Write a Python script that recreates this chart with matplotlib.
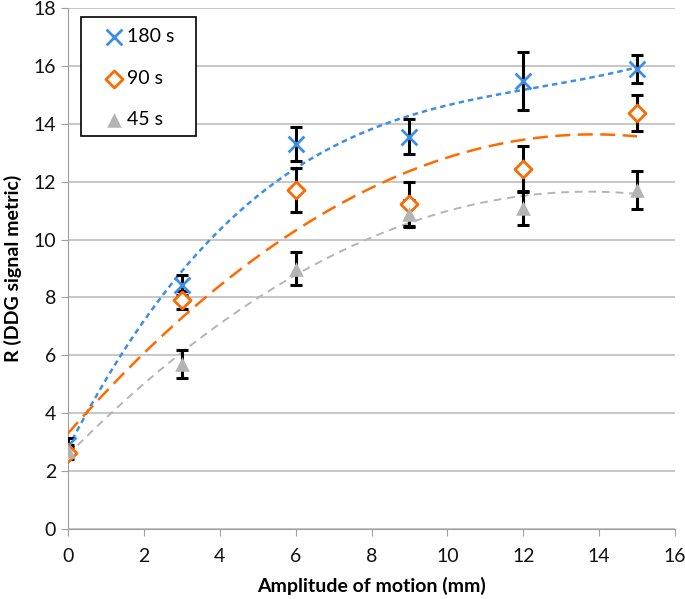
import numpy as np
import matplotlib.pyplot as plt
from matplotlib.patches import Rectangle

plt.rcParams['font.family'] = ['Lato', 'DejaVu Sans']

# Data
amplitude = [0, 3, 6, 9, 12, 15]  # mm

r_180 = [2.9, 8.43, 13.3, 13.55, 15.48, 15.9]
err_180 = [0.25, 0.35, 0.6, 0.6, 1.0, 0.48]

r_90 = [2.63, 7.91, 11.71, 11.23, 12.44, 14.37]
err_90 = [0.2, 0.3, 0.75, 0.75, 0.8, 0.63]

r_45 = [2.7, 5.7, 9.0, 10.9, 11.09, 11.71]
err_45 = [0.2, 0.47, 0.58, 0.45, 0.6, 0.65]

series = [
    ('180 s', r_180, err_180, '#3d8fe6', 'x', 3, (0, (2.2, 1.6)), 1.8),
    ('90 s', r_90, err_90, '#ff6a00', 'D', 2, (0, (6, 3)), 1.8),
    ('45 s', r_45, err_45, '#b4b4b4', '^', 2, (0, (4, 3)), 1.4),
]

fig = plt.figure(figsize=(6.85, 5.99), dpi=100)
ax = fig.add_axes([68 / 685, 70 / 599, 607 / 685, 521 / 599])

xfit = np.linspace(0, 15, 200)
handles = []
for label, y, err, color, marker, deg, ls, lw in series:
    # polynomial trendline (as in the original spreadsheet chart)
    coef = np.polyfit(amplitude, y, deg)
    ax.plot(xfit, np.polyval(coef, xfit), color=color, linestyle=ls, lw=lw, zorder=3)
    ax.errorbar(amplitude, y, yerr=err, fmt='none', ecolor='black',
                elinewidth=2.2, capsize=4, capthick=2.2, zorder=4)
    if marker == 'x':
        h = ax.scatter(amplitude, y, marker='x', s=130, color=color, lw=2, zorder=5, label=label)
    elif marker == 'D':
        h = ax.scatter(amplitude, y, marker='D', s=75, facecolor='white', edgecolor=color,
                       lw=2, zorder=5, label=label)
    else:
        h = ax.scatter(amplitude, y, marker='^', s=110, color=color, lw=0, zorder=5, label=label)
    handles.append(h)

ax.set_xlim(0, 16)
ax.set_ylim(0, 18)
ax.set_xticks(range(0, 17, 2))
ax.set_yticks(range(0, 19, 2))
ax.yaxis.grid(True, color='#bdbdbd', lw=1.2)
ax.set_axisbelow(True)
for s in ['top', 'right']:
    ax.spines[s].set_visible(False)
for s in ['left', 'bottom']:
    ax.spines[s].set_color('#a0a0a0')
ax.tick_params(colors='#a0a0a0', labelcolor='#111111', labelsize=14, length=5)
ax.tick_params(axis='x', pad=9)

ax.set_xlabel('Amplitude of motion (mm)', fontsize=14, fontweight='bold', labelpad=8)
ax.set_ylabel('R (DDG signal metric)', fontsize=14, fontweight='bold', labelpad=8)

# legend box drawn separately so the padding can match the original
ax.add_patch(Rectangle((0.0214, 0.754), 0.19, 0.229, transform=ax.transAxes,
                       facecolor='white', edgecolor='black', lw=1.2, zorder=6))
leg = ax.legend(handles=handles, loc='upper left', bbox_to_anchor=(0.056, 0.961),
                fontsize=14, frameon=False, labelspacing=1.25, handletextpad=0.1,
                borderpad=0, borderaxespad=0, handlelength=1.2)
leg.set_zorder(7)

fig.savefig('out.png', dpi=100)
